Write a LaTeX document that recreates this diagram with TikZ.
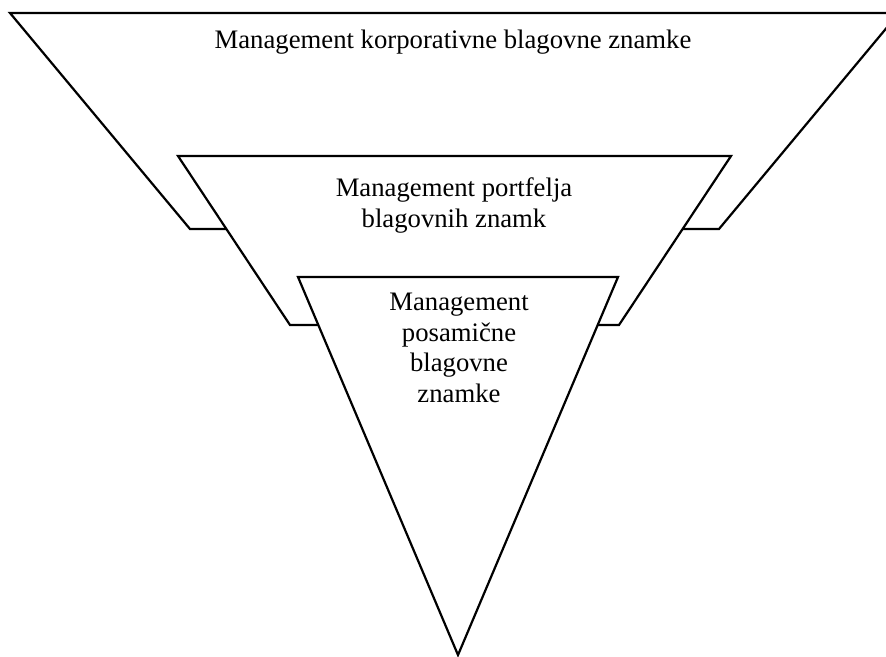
\documentclass[tikz,border=0pt]{standalone}
\usepackage{fontspec}
\setmainfont{Liberation Serif}
\begin{document}
\begin{tikzpicture}[x=1pt,y=-1pt,
  shapeline/.style={draw=black,fill=white,line width=2.2pt,line join=miter},
  lbl/.style={font=\fontsize{26.7}{30.5}\selectfont,align=center,inner sep=0pt,anchor=base}]
\useasboundingbox (0,0) rectangle (886,656);
\clip (0,0) rectangle (886,656);
\draw[shapeline] (10,13) -- (899,13) -- (719,229) -- (190,229) -- cycle;
\draw[shapeline] (178,156) -- (731,156) -- (619,325) -- (290,325) -- cycle;
\draw[shapeline] (298,277) -- (618,277) -- (458,655) -- cycle;
\node[lbl] (t1) at (453,48) {Management korporativne blagovne znamke};
\node[lbl] (t2) at (454,227) {Management portfelja\\blagovnih znamk};
\node[lbl] (t3) at (459,402) {Management\\posamične\\blagovne\\znamke};
\end{tikzpicture}
\end{document}
